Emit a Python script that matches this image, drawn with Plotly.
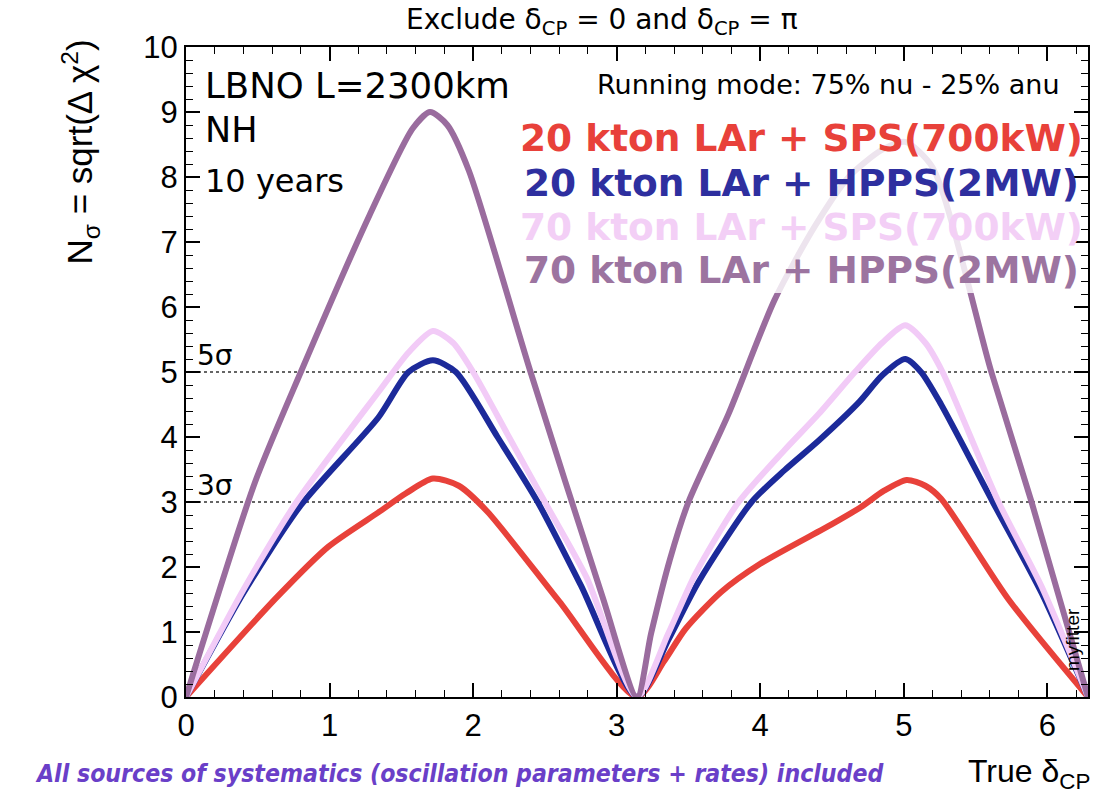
import math
import plotly.graph_objects as go

TWO_PI = 2 * math.pi

# ---------------- data ----------------
red_x = [0, 0.635, 0.99, 1.34, 1.53, 1.72, 1.9, 2.1, 2.6, math.pi,
         3.33, 3.48, 3.73, 4.0, 4.5, 4.7, 4.86, 5.02, 5.15, 5.26, 5.73, TWO_PI]
red_y = [0, 1.54, 2.31, 2.84, 3.13, 3.36, 3.25, 2.85, 1.47, 0,
         0.55, 1.05, 1.62, 2.05, 2.66, 2.92, 3.17, 3.34, 3.25, 3.05, 1.5, 0]

blue_x = [0, 0.4, 0.8, 1.34, 1.55, 1.72, 1.88, 2.17, 2.45, 2.75, math.pi,
          3.36, 3.57, 3.94, 4.17, 4.41, 4.69, 4.85, 5.01, 5.12, 5.26, 5.62, 5.96, TWO_PI]
blue_y = [0, 1.6, 2.95, 4.3, 5.0, 5.18, 5.0, 4.0, 3.0, 1.72, 0,
          0.88, 1.77, 3.0, 3.49, 3.95, 4.54, 4.95, 5.2, 5.0, 4.5, 3.0, 1.6, 0]

pink_x = [0, 0.4, 0.77, 1.35, 1.55, 1.72, 1.86, 2.0, 2.25, 2.5, 2.79, math.pi,
          3.36, 3.55, 3.85, 4.17, 4.41, 4.66, 4.85, 5.01, 5.15, 5.27, 5.66, 5.96, TWO_PI]
pink_y = [0, 1.65, 3.0, 4.72, 5.3, 5.63, 5.45, 5.0, 4.0, 3.0, 1.84, 0,
          0.98, 1.9, 3.0, 3.8, 4.36, 5.0, 5.45, 5.72, 5.45, 5.0, 3.0, 1.7, 0]

purple_x = [0, 0.48, 0.8, 1.28, 1.58, 1.7, 1.82, 1.97, 2.4, 2.9, math.pi,
            3.24, 3.37, 3.5, 3.78, 4.1, 4.38, 4.62, 4.85, 5.01, 5.2, 5.61, 5.89, TWO_PI]
purple_y = [0, 3.3, 5.0, 7.42, 8.75, 9.0, 8.8, 8.1, 5.0, 1.55, 0,
            0.98, 2.11, 3.0, 4.36, 6.11, 7.24, 8.01, 8.42, 8.54, 8.15, 5.0, 3.0, 0]

series_names = ["20 kton LAr + SPS(700kW)", "20 kton LAr + HPPS(2MW)",
                "70 kton LAr + SPS(700kW)", "70 kton LAr + HPPS(2MW)"]
line_colors = ["#E8413A", "#1C2A9A", "#F2CBF7", "#9A6C9E"]
text_colors = ["#E8413A", "#2E2F9F", "#F3CFF6", "#9C74A0"]

sigma_levels = [3, 5]
sigma_labels = ["3σ", "5σ"]
x_ticks = [0, 1, 2, 3, 4, 5, 6]
y_ticks = [0, 1, 2, 3, 4, 5, 6, 7, 8, 9, 10]

# ---------------- geometry helpers ----------------
W, H = 1101, 796
L, R, T, B = 186, 1088, 47, 697


def px(x):
    return (x - L) / (R - L)


def py(y):
    return (B - y) / (B - T)


fig = go.Figure()

for lvl in sigma_levels:
    fig.add_trace(go.Scatter(x=[0, TWO_PI], y=[lvl, lvl], mode="lines",
                             line=dict(color="#333333", width=1.5, dash="dot"),
                             hoverinfo="skip", showlegend=False))

for xs, ys, name, col in zip([red_x, blue_x, pink_x, purple_x],
                             [red_y, blue_y, pink_y, purple_y],
                             series_names, line_colors):
    fig.add_trace(go.Scatter(x=xs, y=ys, mode="lines", name=name,
                             line=dict(color=col, width=6, shape="spline", smoothing=0.7),
                             showlegend=False))

ROOT_FONT = "Liberation Sans, Arial, Helvetica, sans-serif"
SLIDE_FONT = "DejaVu Sans, Verdana, sans-serif"

axis_common = dict(showline=True, linecolor="black", linewidth=2, mirror="ticks",
                   ticks="inside", ticklen=14, tickwidth=1.5, tickcolor="black",
                   showgrid=False, zeroline=False,
                   tickfont=dict(family=ROOT_FONT, size=31, color="black"))

fig.update_xaxes(range=[0, TWO_PI], tickvals=x_ticks, ticktext=[str(v) for v in x_ticks],
                 minor=dict(dtick=0.2, tick0=0, ticks="inside", ticklen=7,
                            tickwidth=1.2, tickcolor="black"),
                 **axis_common)
fig.update_yaxes(range=[0, 10], tickvals=y_ticks, ticktext=[str(v) for v in y_ticks],
                 minor=dict(dtick=0.2, tick0=0, ticks="inside", ticklen=7,
                            tickwidth=1.2, tickcolor="black"),
                 **axis_common)

shapes = [dict(type="rect", xref="paper", yref="paper", layer="above",
               x0=px(515), x1=px(1072), y0=py(293), y1=py(112),
               fillcolor="rgba(255,255,255,0.82)", line=dict(width=0))]

ann = []
ann.append(dict(text="Exclude δ<sub>CP</sub> = 0 and δ<sub>CP</sub> = π",
                x=px(602), y=py(22), xanchor="center", yanchor="middle",
                font=dict(family=SLIDE_FONT, size=28, color="black")))
ann.append(dict(text="LBNO L=2300km", x=px(203), y=py(85), xanchor="left", yanchor="middle",
                font=dict(family=SLIDE_FONT, size=35.5, color="black")))
ann.append(dict(text="NH", x=px(203), y=py(130), xanchor="left", yanchor="middle",
                font=dict(family=SLIDE_FONT, size=35, color="black")))
ann.append(dict(text="10 years", x=px(203), y=py(181), xanchor="left", yanchor="middle",
                font=dict(family=SLIDE_FONT, size=32, color="black")))
ann.append(dict(text="Running mode: 75% nu - 25% anu", x=px(1062), y=py(84),
                xanchor="right", yanchor="middle",
                font=dict(family=SLIDE_FONT, size=27, color="black")))
leg_y = [138, 183, 227, 270]
for name, col, yy in zip(series_names, text_colors, leg_y):
    ann.append(dict(text="<b>" + name + "</b>", x=px(801), y=py(yy),
                    xanchor="center", yanchor="middle",
                    font=dict(family=SLIDE_FONT, size=37.5, color=col)))
for lvl, lab in zip(sigma_levels, sigma_labels):
    ann.append(dict(text=lab, x=px(195), y=py(B - lvl * 65 - 17), xanchor="left",
                    yanchor="middle",
                    font=dict(family=SLIDE_FONT, size=28, color="black")))
ann.append(dict(text="N<sub>σ</sub> = sqrt(Δ χ<sup>2</sup>)", x=px(80), y=py(38),
                xanchor="center", yanchor="top", textangle=-90,
                font=dict(family=ROOT_FONT, size=35, color="black")))
ann.append(dict(text="True δ<sub>CP</sub>", x=px(1092), y=py(773), xanchor="right",
                yanchor="middle", font=dict(family=ROOT_FONT, size=32, color="black")))
ann.append(dict(text="myfitter", x=px(1072), y=py(640), xanchor="center", yanchor="middle",
                textangle=-90, font=dict(family=ROOT_FONT, size=19, color="black")))
ann.append(dict(text="<b><i>All sources of systematics (oscillation parameters + rates) included</i></b>",
                x=px(33), y=py(773), xanchor="left", yanchor="middle",
                font=dict(family="DejaVu Sans Condensed, DejaVu Sans, sans-serif", size=24.6,
                          color="#6A3FC8")))

for a in ann:
    a.update(xref="paper", yref="paper", showarrow=False)

fig.update_layout(width=W, height=H, margin=dict(l=L, r=W - R, t=T, b=H - B),
                  paper_bgcolor="white", plot_bgcolor="white",
                  shapes=shapes, annotations=ann, showlegend=False)

fig.write_html("out.html")
